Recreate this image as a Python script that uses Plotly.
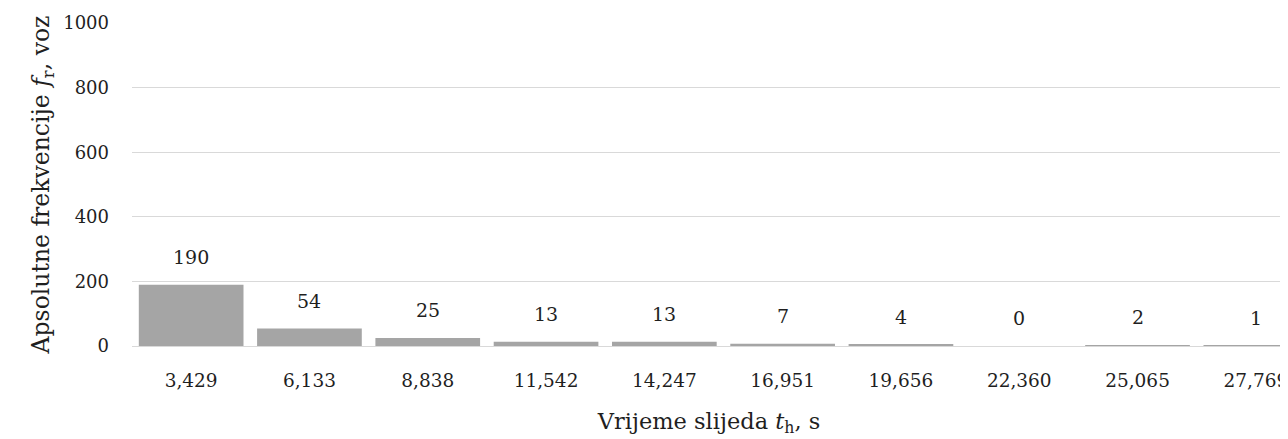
import plotly.graph_objects as go

categories = ["3,429", "6,133", "8,838", "11,542", "14,247", "16,951", "19,656", "22,360", "25,065", "27,769"]
frequencies = [190, 54, 25, 13, 13, 7, 4, 0, 2, 1]
y_ticks = [0, 200, 400, 600, 800, 1000]

FONT = "DejaVu Serif"
TXT = "#1f1f1f"

xs = list(range(len(categories)))

fig = go.Figure(
    go.Bar(
        x=xs,
        y=frequencies,
        marker=dict(color="#a5a5a5", line=dict(width=0)),
        width=0.885,
        hoverinfo="skip",
    )
)

for xv, v in zip(xs, frequencies):
    fig.add_annotation(
        x=xv, y=v, text=str(v), showarrow=False,
        yanchor="middle", yshift=28,
        font=dict(family=FONT, size=19, color=TXT),
    )

fig.update_layout(
    width=1280,
    height=431,
    margin=dict(l=124, r=0, t=15, b=93),
    plot_bgcolor="white",
    paper_bgcolor="white",
    showlegend=False,
    font=dict(family=FONT, color=TXT),
)

fig.update_xaxes(
    range=[-0.5, 9.255],
    tickmode="array",
    tickvals=xs,
    ticktext=categories,
    tickfont=dict(family=FONT, size=18.5, color=TXT),
    ticks="",
    ticklabelstandoff=21,
    ticklabeloverflow="allow",
    showgrid=False,
    zeroline=False,
    showline=False,
    title=dict(text="Vrijeme slijeda <i>t</i><sub>h</sub>, s",
               font=dict(family=FONT, size=22.5, color=TXT), standoff=23),
)

fig.update_yaxes(
    range=[0, 1000],
    tickvals=y_ticks,
    tickfont=dict(family=FONT, size=18, color=TXT),
    ticks="",
    ticklabelstandoff=22,
    showgrid=True,
    gridcolor="#d9d9d9",
    gridwidth=1.3,
    zeroline=True,
    zerolinecolor="#d9d9d9",
    zerolinewidth=1.3,
    showline=False,
    title=dict(text="Apsolutne frekvencije <i>f</i><sub>r</sub>, voz",
               font=dict(family=FONT, size=23.5, color=TXT), standoff=6),
)

fig.write_html("out.html")
